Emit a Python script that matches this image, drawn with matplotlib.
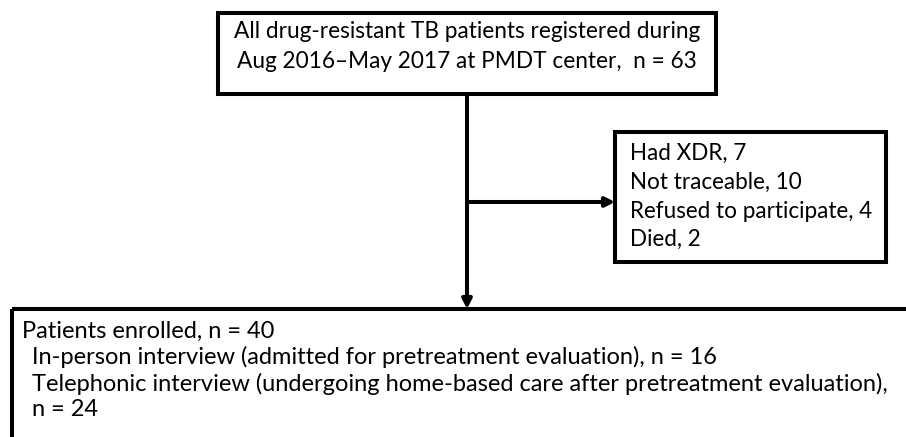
import matplotlib
matplotlib.use("Agg")
import matplotlib.pyplot as plt
from matplotlib.patches import Rectangle
from matplotlib import font_manager

# flowchart texts
top_lines = ["All drug-resistant TB patients registered during",
             "Aug 2016\u2013May 2017 at PMDT center,  n = 63"]
excluded = ["Had XDR, 7", "Not traceable, 10", "Refused to participate, 4", "Died, 2"]
enrolled_head = "Patients enrolled, n = 40"
enrolled_sub = ["In-person interview (admitted for pretreatment evaluation), n = 16",
                "Telephonic interview (undergoing home-based care after pretreatment evaluation),",
                "n = 24"]

names = {f.name for f in font_manager.fontManager.ttflist}
main_font = "Lato" if "Lato" in names else "DejaVu Sans"
narrow_font = "Liberation Sans Narrow" if "Liberation Sans Narrow" in names else main_font

W, H = 906, 437
fig = plt.figure(figsize=(W / 100, H / 100), dpi=100)
ax = fig.add_axes([0, 0, 1, 1])
ax.set_xlim(0, W)
ax.set_ylim(H, 0)
ax.axis("off")

lw = 2.9


def box(x0, y0, x1, y1):
    ax.add_patch(Rectangle((x0, y0), x1 - x0, y1 - y0, fill=False,
                           edgecolor="black", linewidth=lw, clip_on=False))


def fit(t, target_w):
    # scale font so the rendered width matches the reference width in pixels
    fig.canvas.draw()
    r = fig.canvas.get_renderer()
    w = t.get_window_extent(r).width
    t.set_fontsize(t.get_fontsize() * target_w / w)
    return t.get_fontsize()


# boxes
box(218, 13, 716, 94)
box(615, 132, 886, 262)
box(12, 309, 930, 470)

# connectors
cx = 467
ax.plot([cx, cx], [94, 296], color="black", lw=lw, solid_capstyle="butt")
ax.annotate("", xy=(cx, 309), xytext=(cx, 280),
            arrowprops=dict(arrowstyle="-|>,head_length=0.55,head_width=0.28",
                            color="black", lw=lw, shrinkA=0, shrinkB=0))
ax.annotate("", xy=(615, 202), xytext=(cx, 202),
            arrowprops=dict(arrowstyle="-|>,head_length=0.55,head_width=0.28",
                            color="black", lw=lw, shrinkA=0, shrinkB=0))

# top box text
t1 = ax.text(cx, 31, top_lines[0], ha="center", va="center", family=main_font, fontsize=14)
fs = fit(t1, 466)
ax.text(cx, 61, top_lines[1], ha="center", va="center", family=main_font, fontsize=fs)

# excluded box text
ys = [153, 182, 211, 239]
t2 = ax.text(630, ys[2], excluded[2], ha="left", va="center", family=main_font, fontsize=14)
fs2 = fit(t2, 243)
for y, s in zip(ys, excluded):
    if s != excluded[2]:
        ax.text(630, y, s, ha="left", va="center", family=main_font, fontsize=fs2)

# enrolled box text
t3 = ax.text(32, 384, enrolled_sub[1], ha="left", va="center", family=narrow_font, fontsize=14)
fs3 = fit(t3, 861)
ax.text(22, 331, enrolled_head, ha="left", va="center", family=narrow_font, fontsize=fs3)
ax.text(32, 357, enrolled_sub[0], ha="left", va="center", family=narrow_font, fontsize=fs3)
ax.text(32, 410, enrolled_sub[2], ha="left", va="center", family=narrow_font, fontsize=fs3)

fig.savefig("out.png", dpi=100)
